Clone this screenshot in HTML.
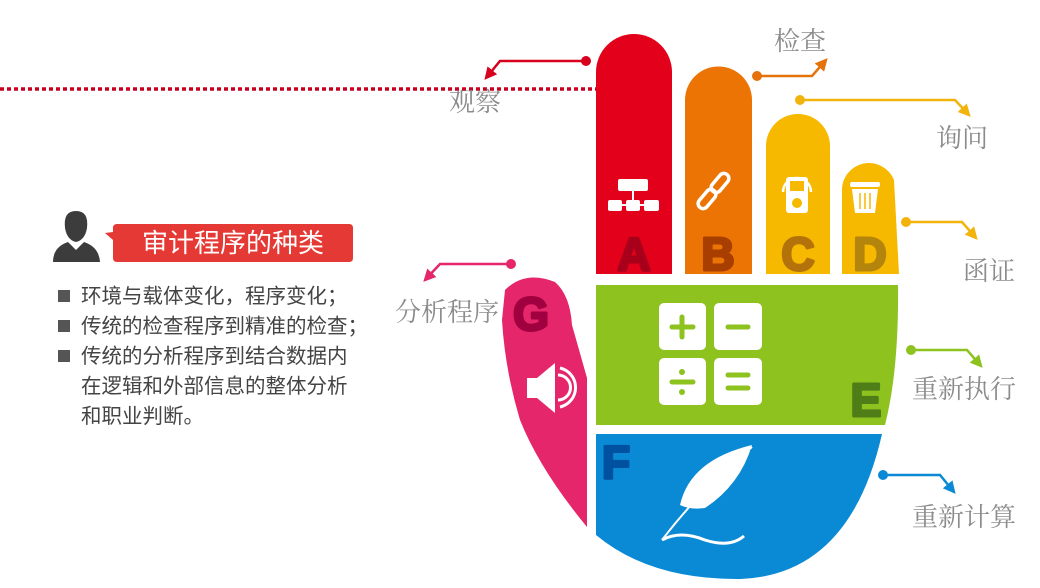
<!DOCTYPE html>
<html><head><meta charset="utf-8"><style>
html,body{margin:0;padding:0;background:#fff;}
body{width:1040px;height:588px;position:relative;overflow:hidden;font-family:"Liberation Sans","Noto Sans CJK SC",sans-serif;}
.lbl{position:absolute;font-family:"Liberation Serif","Noto Serif CJK SC",serif;font-size:26px;color:#8c8c8c;line-height:1;white-space:nowrap;}
.bl{position:absolute;left:58px;font-size:20.5px;color:#444;line-height:30px;white-space:nowrap;}
.bl span{display:inline-block;width:12px;height:12px;background:#555;margin-right:11px;vertical-align:1px;}
</style></head><body>
<svg width="1040" height="588" style="position:absolute;left:0;top:0">
<defs>
<marker id="ar" viewBox="0 0 10 10" refX="8" refY="5" markerWidth="5" markerHeight="5" orient="auto"><path d="M0,0 L10,5 L0,10 z" fill="context-stroke"/></marker>
</defs>
<line x1="0" y1="89" x2="596" y2="89" stroke="#c8001e" stroke-width="3.5" stroke-dasharray="4,3"/>
<path d="M596,274 V72 A38,38 0 0 1 672,72 V274 Z" fill="#e2001a"/>
<path d="M685,274 V100 A33.5,33.5 0 0 1 752,100 V274 Z" fill="#ec7405"/>
<path d="M766,274 V146 A32,32 0 0 1 830,146 V274 Z" fill="#f7b800"/>
<path d="M842,274 V192 A27,27 0 0 1 894,180 L899,274 Z" fill="#f7b800"/>
<path d="M596,285 H898 Q899,370 885,425 H596 Z" fill="#8dc21f"/>
<path d="M596,434 H882 Q850,575 740,579 Q650,580 596,535 Z" fill="#0a8ad4"/>
<path d="M505,290 Q525,270 555,282 Q570,295 572,325 L587,378 V527 Q540,470 520,420 Q505,370 502,320 Z" fill="#e5266a"/>
<g fill="#fff"><rect x="618" y="179" width="30" height="12" rx="2"/><rect x="608" y="200" width="14" height="11" rx="2"/><rect x="626" y="200" width="14" height="11" rx="2"/><rect x="644" y="200" width="15" height="11" rx="2"/><rect x="632" y="190" width="2" height="12"/><rect x="618" y="204" width="30" height="2"/></g>
<g fill="none" stroke="#fff" stroke-width="3.5"><rect x="715" y="172" width="10" height="22" rx="5" transform="rotate(40 720 183)"/><rect x="702" y="188" width="10" height="22" rx="5" transform="rotate(40 707 199)"/></g>
<g fill="#fff"><rect x="786" y="177" width="22" height="36" rx="3"/><path d="M783,192 A14,14 0 0 1 811,192" fill="none" stroke="#fff" stroke-width="2.5"/></g>
<rect x="790" y="181" width="14" height="10" fill="#f7b800"/><circle cx="797" cy="203" r="5" fill="#f7b800"/>
<g fill="#fff"><rect x="850" y="182" width="30" height="5" rx="2"/><path d="M852,189 H878 L875,213 H855 Z"/></g>
<g stroke="#f7b800" stroke-width="1.5"><line x1="860" y1="193" x2="860" y2="209"/><line x1="865" y1="193" x2="865" y2="209"/><line x1="870" y1="193" x2="870" y2="209"/></g>
<g fill="#fff"><rect x="659" y="303" width="47" height="47" rx="5"/><rect x="714" y="303" width="48" height="47" rx="5"/><rect x="659" y="358" width="47" height="47" rx="5"/><rect x="714" y="358" width="48" height="47" rx="5"/></g>
<g stroke="#8dc21f" stroke-width="5" stroke-linecap="round"><line x1="672" y1="327" x2="693" y2="327"/><line x1="682" y1="317" x2="682" y2="337"/><line x1="728" y1="327" x2="748" y2="327"/><line x1="672" y1="382" x2="693" y2="382"/><line x1="728" y1="375" x2="748" y2="375"/><line x1="728" y1="388" x2="748" y2="388"/></g>
<circle cx="682" cy="372" r="3" fill="#8dc21f"/><circle cx="682" cy="392" r="3" fill="#8dc21f"/>
<path d="M527,378 H537 L555,363 V413 L537,398 H527 Z" fill="#fff"/>
<g fill="none" stroke="#fff" stroke-width="3"><path d="M558,375 A12,12 0 0 1 558,400"/><path d="M560,368 A20,20 0 0 1 560,407"/></g>
<path d="M752,445 Q690,460 680,505 Q690,510 705,508 Q740,485 752,445 Z" fill="#fff"/>
<path d="M752,447 Q700,490 662,540" stroke="#fff" stroke-width="2" fill="none"/>
<path d="M662,540 Q680,530 705,540 Q730,548 744,536" stroke="#fff" stroke-width="3" fill="none"/>
<g font-family="Liberation Sans,sans-serif" font-weight="bold" font-size="46" stroke-width="3" stroke-linejoin="round">
<text x="634" y="270" text-anchor="middle" fill="#a8001a" stroke="#a8001a">A</text>
<text x="718" y="270" text-anchor="middle" fill="#a83f00" stroke="#a83f00">B</text>
<text x="798" y="270" text-anchor="middle" fill="#b4730a" stroke="#b4730a">C</text>
<text x="870" y="270" text-anchor="middle" fill="#b4850c" stroke="#b4850c">D</text>
<text x="866" y="416" text-anchor="middle" fill="#4f7d17" stroke="#4f7d17">E</text>
<text x="616" y="478" text-anchor="middle" fill="#0051a0" stroke="#0051a0">F</text>
<text x="531" y="330" text-anchor="middle" fill="#a0003f" stroke="#a0003f">G</text>
</g>
<g fill="none" stroke-width="2.5" marker-end="url(#ar)">
<path d="M586,61 H500 L486,78" stroke="#d7001d"/>
<path d="M757,76 H812 L826,60" stroke="#e5720b"/>
<path d="M800,100 H955 L969,115" stroke="#f2b30c"/>
<path d="M906,222 H962 L976,238" stroke="#f2b30c"/>
<path d="M911,350 H967 L981,366" stroke="#8dc21f"/>
<path d="M883,475 H940 L954,492" stroke="#0a8ad4"/>
<path d="M511,264 H440 L425,280" stroke="#e5266a"/>
</g>
<circle cx="586" cy="61" r="5" fill="#d7001d"/>
<circle cx="757" cy="76" r="5" fill="#e5720b"/>
<circle cx="800" cy="100" r="5" fill="#f2b30c"/>
<circle cx="906" cy="222" r="5" fill="#f2b30c"/>
<circle cx="911" cy="350" r="5" fill="#8dc21f"/>
<circle cx="883" cy="475" r="5" fill="#0a8ad4"/>
<circle cx="511" cy="264" r="5" fill="#e5266a"/>
<path d="M65,228 Q63,211 76,211 Q89,211 87,228 Q85,240 76,242 Q67,240 65,228 Z" fill="#3c3c3c"/>
<path d="M53,262 Q53,247 68,242 L76,250 L84,242 Q99,247 100,262 Z" fill="#3c3c3c"/>
<path d="M117,224 H349 Q353,224 353,228 V258 Q353,262 349,262 H117 Q113,262 113,258 V240 L105,233 L113,232 V228 Q113,224 117,224 Z" fill="#e53935"/>
</svg>
<div style="position:absolute;left:113px;top:224px;width:240px;height:38px;line-height:38px;text-align:center;color:#fff;font-size:26px;">审计程序的种类</div>
<div class="bl" style="top:282px"><span></span>环境与载体变化，程序变化；</div>
<div class="bl" style="top:312px"><span></span>传统的检查程序到精准的检查；</div>
<div class="bl" style="top:342px"><span></span>传统的分析程序到结合数据内</div>
<div class="bl" style="top:372px;left:81px">在逻辑和外部信息的整体分析</div>
<div class="bl" style="top:402px;left:81px">和职业判断。</div>
<div class="lbl" style="left:449px;top:90px">观察</div>
<div class="lbl" style="left:774px;top:29px">检查</div>
<div class="lbl" style="left:936px;top:126px">询问</div>
<div class="lbl" style="left:963px;top:259px">函证</div>
<div class="lbl" style="left:912px;top:377px">重新执行</div>
<div class="lbl" style="left:912px;top:505px">重新计算</div>
<div class="lbl" style="left:395px;top:300px">分析程序</div>
</body></html>
